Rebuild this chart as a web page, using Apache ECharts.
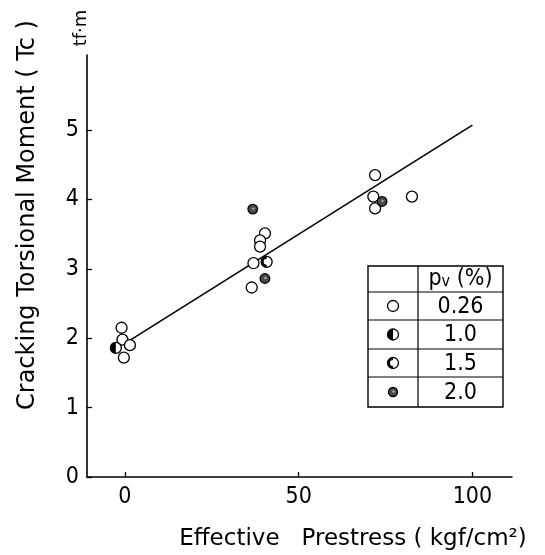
<!DOCTYPE html>
<html><head><meta charset="utf-8">
<script src="https://cdn.jsdelivr.net/npm/echarts@6/dist/echarts.min.js"></script>
<style>html,body{margin:0;padding:0;background:#fff}#c{width:545px;height:555px}</style>
</head><body><div id="c"></div>
<script>
// axis ticks
const xTicks = [0, 50, 100];
const yTicks = [0, 1, 2, 3, 4, 5];
// data: [effective prestress (kgf/cm2), cracking torsional moment Tc (tf·m)]
const pts026 = [[-0.95,2.15],[-0.7,1.98],[1.45,1.90],[-0.3,1.72],[40.3,3.51],[38.9,3.41],[38.9,3.32],[37.0,3.08],[36.5,2.73],[72.0,4.35],[71.5,4.04],[72.0,3.87],[82.6,4.04]];
const pts10 = [[-2.6,1.86]];
const pts15 = [[40.8,3.10]];
const pts20 = [[36.8,3.86],[40.3,2.86],[74.0,3.97]];
const fitLine = [[0.5,1.94],[100,5.07]];
const legendLabels = ['0.26','1.0','1.5','2.0'];

const FONT = "'DejaVu Sans Condensed', 'Liberation Sans Narrow', 'DejaVu Sans'";
function marker(type, cx, cy, r, z) {
  const ch = [];
  ch.push({type:'circle', z, shape:{cx, cy, r}, style:{fill: type===3 ? '#4a4a4a' : '#fff', stroke:'#000', lineWidth:1.3}});
  if (type===1) ch.push({type:'sector', z, shape:{cx, cy, r, r0:0, startAngle:Math.PI/2, endAngle:Math.PI*1.5}, style:{fill:'#000'}});
  if (type===2) ch.push({type:'sector', z, shape:{cx, cy, r, r0:r-2.5, startAngle:Math.PI/2, endAngle:Math.PI*1.5}, style:{fill:'#000'}});
  if (type===3) ch.push({type:'circle', z, shape:{cx:cx+0.5, cy:cy-0.5, r:1.2}, style:{fill:'#aaa'}});
  return {type:'group', children: ch};
}
function markerSeries(data, type, r) {
  return {type:'custom', data, z:5, encode:{x:0,y:1},
    renderItem:(params, api) => {
      const p = api.coord([api.value(0), api.value(1)]);
      return marker(type, p[0], p[1], r);
    }};
}

// legend table (pixel layout)
const tL=368, tR=503, tT=266, tB=407, tC=418, rows=[292,320,349,377];
const g = [];
g.push({type:'rect', shape:{x:tL, y:tT, width:tR-tL, height:tB-tT}, style:{fill:'#fff', stroke:'#000', lineWidth:1.4}, z:10});
g.push({type:'line', shape:{x1:tC, y1:tT, x2:tC, y2:tB}, style:{stroke:'#000', lineWidth:1.2}, z:11});
rows.forEach(y => g.push({type:'line', shape:{x1:tL, y1:y, x2:tR, y2:y}, style:{stroke:'#000', lineWidth:1.2}, z:11}));
g.push({type:'text', x:(tC+tR)/2, y:(tT+rows[0])/2, z:12,
  style:{text:'{p|p}{v|v} (%)', rich:{p:{fontSize:23,fontFamily:FONT}, v:{fontSize:16,fontFamily:FONT, padding:[6,0,0,0]}}, fontSize:23, fontFamily:FONT, fill:'#000', align:'center', verticalAlign:'middle'}});
legendLabels.forEach((lab,i) => {
  const y0 = rows[i], y1 = i<3 ? rows[i+1] : tB;
  const cy = (y0+y1)/2;
  g.push(marker(i, (tL+tC)/2, cy, i===3 ? 4.5 : 5.5, 13));
  g.push({type:'text', x:(tC+tR)/2, y:cy+1, z:12, style:{text:lab, fontSize:23, fontFamily:FONT, fill:'#000', align:'center', verticalAlign:'middle'}});
});
// titles
g.push({type:'text', x:28, y:215, rotation:Math.PI/2, z:12, style:{text:'Cracking Torsional Moment ( Tc )', fontSize:24, fontFamily:'DejaVu Sans', fill:'#000', align:'center', verticalAlign:'middle'}});
g.push({type:'text', x:81, y:28, rotation:Math.PI/2, z:12, style:{text:'tf·m', fontSize:18, fontFamily:'DejaVu Sans', fill:'#000', align:'center', verticalAlign:'middle'}});
g.push({type:'text', x:353, y:539, z:12, style:{text:'Effective   Prestress ( kgf/cm²)', fontSize:23, fontFamily:'DejaVu Sans', fill:'#000', align:'center', verticalAlign:'middle'}});

const chart = echarts.init(document.getElementById('c'), null, {renderer:'canvas'});
chart.setOption({
  animation:false,
  backgroundColor:'#fff',
  grid:{left:87, right:33, top:55, bottom:78},
  xAxis:{type:'value', min:-10.9, max:111.4,
    axisLine:{onZero:false, lineStyle:{color:'#000', width:1.6}},
    axisTick:{inside:true, length:5, customValues:xTicks, lineStyle:{color:'#000', width:1.3}},
    axisLabel:{customValues:xTicks, fontSize:23, fontFamily:FONT, color:'#000', margin:9},
    splitLine:{show:false}},
  yAxis:{type:'value', min:0, max:6.08,
    axisLine:{show:true, onZero:false, lineStyle:{color:'#000', width:1.6}},
    axisTick:{show:true, inside:true, length:5, customValues:yTicks, lineStyle:{color:'#000', width:1.3}},
    axisLabel:{customValues:yTicks, fontSize:23, fontFamily:FONT, color:'#000', margin:8},
    splitLine:{show:false}},
  series:[
    {type:'line', data:fitLine, symbol:'none', z:2, lineStyle:{color:'#000', width:1.6}},
    markerSeries(pts026, 0, 5.5),
    markerSeries(pts10, 1, 5.5),
    markerSeries(pts15, 2, 5.5),
    markerSeries(pts20, 3, 4.8)
  ],
  graphic:g
});
</script></body></html>
